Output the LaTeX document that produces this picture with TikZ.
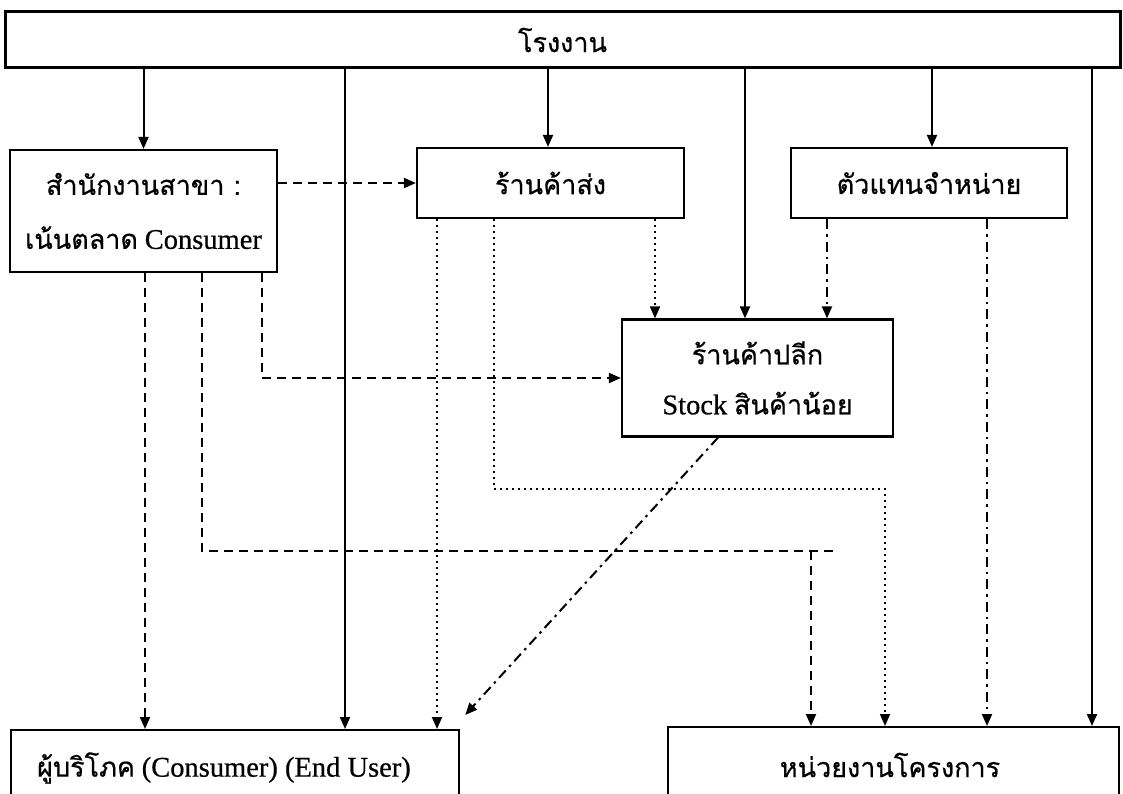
\documentclass[tikz,border=0pt]{standalone}
\usepackage{fontspec}
\setmainfont{Liberation Serif}[FakeBold=0.6]
\newfontfamily\thf[Script=Thai,FakeBold=0.6]{Loma}
\usetikzlibrary{arrows.meta}
\tikzset{
  txt/.style={font=\fontsize{27}{32}\selectfont},
  lat/.style={font=\fontsize{28.5}{32}\selectfont},
  box/.style={draw, line width=2.2pt, rectangle, inner sep=0pt, align=center, txt},
  tip/.style={-{Triangle[length=12pt,width=10pt]}},
  sline/.style={tip, line width=2pt},
  dline/.style={tip, line width=2pt, dash pattern=on 9pt off 6pt},
  tline/.style={tip, line width=1.8pt, dash pattern=on 2pt off 4pt},
  ddline/.style={tip, line width=2pt, dash pattern=on 10pt off 5pt on 2.5pt off 5pt},
}
\newcommand{\lt}[1]{{\fontsize{28.5}{32}\selectfont #1}}
\begin{document}
\begin{tikzpicture}[x=1pt,y=-1pt]
\useasboundingbox[fill=white] (0,0) rectangle (1123,794);
% boxes
\node[box, line width=3pt, minimum width=1115pt, minimum height=56pt] (factory) at (562.5,40) {\thf โรงงาน};
\node[box, minimum width=267pt, minimum height=122pt] (branch) at (143.5,211) {\thf สำนักงานสาขา :\\[22pt]{\thf เน้นตลาด} \lt{Consumer}};
\node[box, minimum width=267pt, minimum height=70pt] (wholesale) at (550.5,183) {\thf ร้านค้าส่ง};
\node[box, minimum width=276pt, minimum height=70pt] (agent) at (929,183) {\thf ตัวแทนจำหน่าย};
\node[box, minimum width=271pt, minimum height=117pt] (retail) at (757.5,378) {\thf ร้านค้าปลีก\\[18pt]\lt{Stock} {\thf สินค้าน้อย}};
\node[box, minimum width=448pt, minimum height=80pt, anchor=north west] (consumer) at (10,729) {};
\node[txt] (consumerlbl) at (224,768) {{\thf ผู้บริโภค} \lt{(Consumer) (End User)}};
\node[box, minimum width=451pt, minimum height=82pt, anchor=north west] (project) at (667,726) {};
\node[txt] (projectlbl) at (890,765) {\thf หน่วยงานโครงการ};
% solid from factory
\draw[sline] (factory.south -| branch.north) -- (branch.north);
\draw[sline] (factory.south -| 345,0) -- (consumer.north -| 345,0);
\draw[sline] (factory.south -| 548,0) -- (wholesale.north -| 548,0);
\draw[sline] (factory.south -| 745,0) -- (retail.north -| 745,0);
\draw[sline] (factory.south -| 932,0) -- (agent.north -| 932,0);
\draw[sline] (factory.south -| 1092,0) -- (project.north -| 1092,0);
% dashed from branch
\draw[dline] (branch.east |- wholesale.west) -- (wholesale.west);
\draw[dline] (branch.south -| 145,0) -- (consumer.north -| 145,0);
\draw[dline] (branch.south -| 262,0) |- (retail.west);
\coordinate (dturn) at (811,551);
\coordinate (dend) at (833,551);
\draw[dline, -] (branch.south -| 202,0) |- (dend);
\draw[dline] (dturn) -- (project.north -| dturn);
% dotted from wholesale
\draw[tline] (wholesale.south -| 437,0) -- (consumer.north -| 437,0);
\coordinate (tturn) at (885,489);
\draw[tline] (wholesale.south -| 494,0) |- (tturn) -- (project.north -| tturn);
\draw[tline] (wholesale.south -| 655,0) -- (retail.north -| 655,0);
% dash-dot from agent
\draw[ddline] (agent.south -| 827,0) -- (retail.north -| 827,0);
\draw[ddline] (agent.south -| 987,0) -- (project.north -| 987,0);
% diagonal
\draw[ddline] (retail.south -| 718,0) -- ([xshift=5pt,yshift=14pt]consumer.north east);
\end{tikzpicture}
\end{document}
